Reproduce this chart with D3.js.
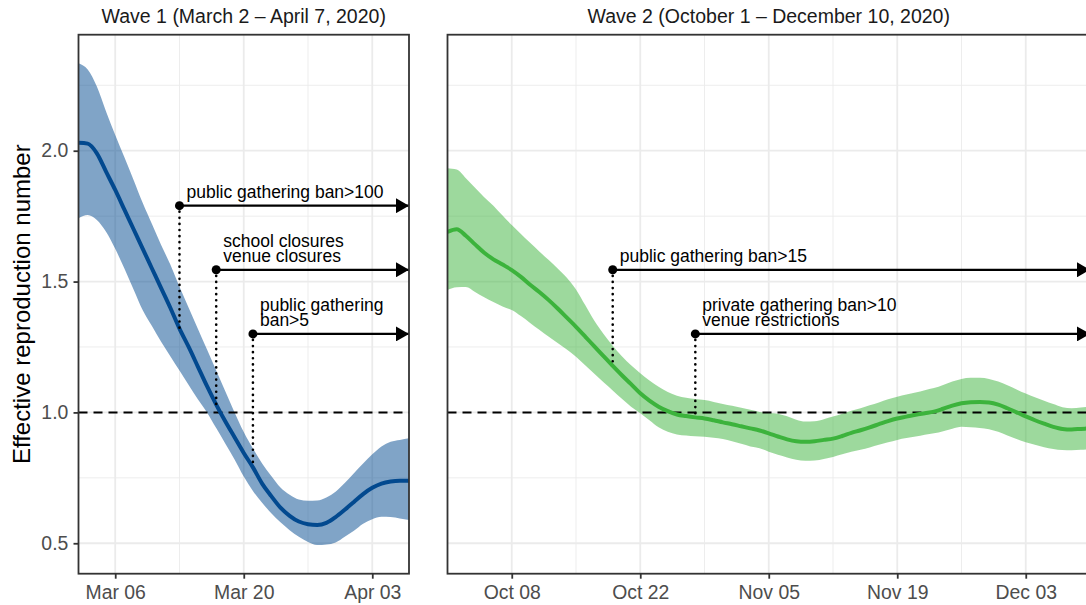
<!DOCTYPE html>
<html lang="en">
<head>
<meta charset="UTF-8">
<title>Effective reproduction number</title>
<script src="https://d3js.org/d3.v7.min.js"></script>
<style>
  body { margin: 0; background: #fff; }
  svg { display: block; font-family: "Liberation Sans", Arial, sans-serif; }
</style>
</head>
<body>
<svg id="chart" width="1086" height="605"></svg>
<script>
// wave 1: daily values from March 2 to April 7, 2020
const wave1Start = "2020-03-02"
const wave1End = "2020-04-07"
const wave1Mean = [2.030, 2.027, 1.990, 1.920, 1.850, 1.775, 1.700, 1.625, 1.550, 1.475,
  1.400, 1.320, 1.250, 1.175, 1.100, 1.030, 0.965, 0.905, 0.845, 0.790,
  0.728, 0.680, 0.636, 0.605, 0.583, 0.573, 0.570, 0.578, 0.600, 0.628,
  0.658, 0.688, 0.712, 0.728, 0.736, 0.739, 0.739]
const wave1Upper = [2.334, 2.310, 2.245, 2.150, 2.060, 1.975, 1.888, 1.800, 1.720, 1.640,
  1.565, 1.480, 1.400, 1.320, 1.240, 1.160, 1.080, 1.000, 0.925, 0.862,
  0.805, 0.757, 0.713, 0.685, 0.667, 0.662, 0.663, 0.675, 0.697, 0.730,
  0.768, 0.805, 0.840, 0.870, 0.888, 0.895, 0.901]
const wave1Lower = [1.742, 1.754, 1.735, 1.690, 1.625, 1.550, 1.470, 1.390, 1.330, 1.270,
  1.215, 1.160, 1.105, 1.050, 1.000, 0.940, 0.880, 0.820, 0.755, 0.700,
  0.655, 0.615, 0.580, 0.550, 0.525, 0.505, 0.493, 0.495, 0.503, 0.525,
  0.548, 0.575, 0.592, 0.601, 0.600, 0.595, 0.589]

// wave 2: daily values from October 1 to December 10, 2020
const wave2Start = "2020-10-01"
const wave2End = "2020-12-10"
const wave2Mean = [1.690, 1.700, 1.675, 1.642, 1.610, 1.585, 1.565, 1.544, 1.518, 1.488,
  1.460, 1.430, 1.397, 1.362, 1.327, 1.290, 1.252, 1.215, 1.178, 1.142,
  1.108, 1.073, 1.045, 1.022, 1.005, 0.992, 0.986, 0.981, 0.977, 0.970,
  0.962, 0.955, 0.947, 0.939, 0.931, 0.920, 0.908, 0.897, 0.890, 0.888,
  0.890, 0.895, 0.900, 0.910, 0.922, 0.932, 0.943, 0.955, 0.967, 0.977,
  0.984, 0.991, 0.997, 1.003, 1.014, 1.026, 1.035, 1.039, 1.040, 1.038,
  1.030, 1.016, 1.000, 0.985, 0.970, 0.957, 0.945, 0.937, 0.935, 0.937, 0.939]
const wave2Upper = [1.933, 1.928, 1.895, 1.858, 1.822, 1.790, 1.752, 1.716, 1.682, 1.648,
  1.615, 1.583, 1.550, 1.515, 1.470, 1.410, 1.350, 1.300, 1.255, 1.215,
  1.180, 1.150, 1.122, 1.098, 1.078, 1.064, 1.056, 1.051, 1.047, 1.040,
  1.032, 1.025, 1.018, 1.010, 1.002, 0.998, 0.995, 0.985, 0.972, 0.965,
  0.966, 0.974, 0.984, 0.995, 1.006, 1.016, 1.027, 1.038, 1.050, 1.060,
  1.068, 1.076, 1.085, 1.093, 1.105, 1.118, 1.128, 1.132, 1.132, 1.128,
  1.118, 1.104, 1.088, 1.072, 1.058, 1.045, 1.032, 1.020, 1.016, 1.019, 1.022]
const wave2Lower = [1.468, 1.478, 1.479, 1.460, 1.440, 1.422, 1.405, 1.391, 1.368, 1.342,
  1.316, 1.290, 1.265, 1.240, 1.213, 1.180, 1.148, 1.115, 1.084, 1.052,
  1.022, 0.997, 0.970, 0.943, 0.926, 0.916, 0.912, 0.909, 0.907, 0.903,
  0.898, 0.890, 0.880, 0.870, 0.863, 0.850, 0.838, 0.828, 0.819, 0.815,
  0.816, 0.822, 0.830, 0.840, 0.850, 0.857, 0.866, 0.876, 0.886, 0.895,
  0.902, 0.908, 0.915, 0.920, 0.928, 0.938, 0.945, 0.943, 0.940, 0.936,
  0.926, 0.912, 0.898, 0.886, 0.876, 0.867, 0.860, 0.856, 0.855, 0.857, 0.859]

// interventions
const wave1Events = [
  {date: "2020-03-13", y: 1.790, label: ["public gathering ban>100"]},
  {date: "2020-03-17", y: 1.545, label: ["school closures", "venue closures"]},
  {date: "2020-03-21", y: 1.300, label: ["public gathering", "ban>5"]}
]
const wave2Events = [
  {date: "2020-10-19", y: 1.545, label: ["public gathering ban>15"]},
  {date: "2020-10-28", y: 1.300, label: ["private gathering ban>10", "venue restrictions"]}
]

// ticks
const yTicks = [0.5, 1.0, 1.5, 2.0]
const yMinor = [0.75, 1.25, 1.75, 2.25]
const wave1Ticks = ["2020-03-06", "2020-03-20", "2020-04-03"]
const wave1Minor = ["2020-03-13", "2020-03-27"]
const wave2Ticks = ["2020-10-08", "2020-10-22", "2020-11-05", "2020-11-19", "2020-12-03"]
const wave2Minor = ["2020-10-15", "2020-10-29", "2020-11-12", "2020-11-26"]

const parse = d3.utcParse("%Y-%m-%d")
const fmt = d3.utcFormat("%b %d")

const panelTop = 34.7, panelBottom = 573.7
const y = d3.scaleLinear().domain([0.3837, 2.4433]).range([panelBottom, panelTop])

const panels = [
  {title: "Wave 1 (March 2 \u2013 April 7, 2020)", x0: 78.5, x1: 409,
   start: wave1Start, end: wave1End, mean: wave1Mean, upper: wave1Upper, lower: wave1Lower,
   events: wave1Events, ticks: wave1Ticks, minor: wave1Minor,
   line: "#02498F", band: "#02498F", yAxis: true},
  {title: "Wave 2 (October 1 \u2013 December 10, 2020)", x0: 447.5, x1: 1090,
   start: wave2Start, end: wave2End, mean: wave2Mean, upper: wave2Upper, lower: wave2Lower,
   events: wave2Events, ticks: wave2Ticks, minor: wave2Minor,
   line: "#3CB33C", band: "#3CB33C", yAxis: false}
]

const svg = d3.select("#chart")
svg.append("rect").attr("width", 1086).attr("height", 605).attr("fill", "#fff")

svg.append("defs").append("marker")
  .attr("id", "arrow")
  .attr("viewBox", "0 0 13 15")
  .attr("refX", 13).attr("refY", 7.5)
  .attr("markerWidth", 13).attr("markerHeight", 15)
  .attr("markerUnits", "userSpaceOnUse")
  .attr("orient", "auto")
  .append("path").attr("d", "M0,0L13,7.5L0,15Z").attr("fill", "#000")

panels.forEach((p, k) => {
  const x = d3.scaleUtc().domain([parse(p.start), parse(p.end)]).range([p.x0, p.x1])
  const start = parse(p.start)
  const rows = p.mean.map((m, i) => ({date: d3.utcDay.offset(start, i), mean: m, lo: p.lower[i], hi: p.upper[i]}))
  const g = svg.append("g")

  g.append("clipPath").attr("id", "clip" + k)
    .append("rect").attr("x", p.x0).attr("y", panelTop).attr("width", p.x1 - p.x0).attr("height", panelBottom - panelTop)

  // grid
  const grid = g.append("g").attr("stroke", "#EBEBEB")
  grid.selectAll("line.ymin").data(yMinor).join("line")
    .attr("x1", p.x0).attr("x2", p.x1).attr("y1", d => y(d)).attr("y2", d => y(d))
    .attr("stroke-width", 0.9)
  grid.selectAll("line.xmin").data(p.minor).join("line")
    .attr("x1", d => x(parse(d))).attr("x2", d => x(parse(d))).attr("y1", panelTop).attr("y2", panelBottom)
    .attr("stroke-width", 0.9)
  grid.selectAll("line.ymaj").data(yTicks).join("line")
    .attr("x1", p.x0).attr("x2", p.x1).attr("y1", d => y(d)).attr("y2", d => y(d))
    .attr("stroke-width", 1.8)
  grid.selectAll("line.xmaj").data(p.ticks).join("line")
    .attr("x1", d => x(parse(d))).attr("x2", d => x(parse(d))).attr("y1", panelTop).attr("y2", panelBottom)
    .attr("stroke-width", 1.8)

  const body = g.append("g").attr("clip-path", `url(#clip${k})`)

  // ribbon
  body.append("path").datum(rows)
    .attr("d", d3.area().x(d => x(d.date)).y0(d => y(d.lo)).y1(d => y(d.hi)).curve(d3.curveMonotoneX))
    .attr("fill", p.band).attr("fill-opacity", 0.5)

  // reference line at R = 1
  body.append("line")
    .attr("x1", p.x0).attr("x2", p.x1).attr("y1", y(1)).attr("y2", y(1))
    .attr("stroke", "#000").attr("stroke-width", 2).attr("stroke-dasharray", "9,6")

  body.append("path").datum(rows)
    .attr("d", d3.line().x(d => x(d.date)).y(d => y(d.mean)).curve(d3.curveMonotoneX))
    .attr("fill", "none").attr("stroke", p.line).attr("stroke-width", 4)

  // interventions
  p.events.forEach(e => {
    const dt = parse(e.date)
    const idx = d3.utcDay.count(start, dt)
    const ex = x(dt), ey = y(e.y)
    g.append("line")
      .attr("x1", ex).attr("x2", ex).attr("y1", ey + 6).attr("y2", y(p.mean[idx]))
      .attr("stroke", "#000").attr("stroke-width", 2.6)
      .attr("stroke-linecap", "round").attr("stroke-dasharray", "0.1,6")
    g.append("line")
      .attr("x1", ex).attr("x2", p.x1).attr("y1", ey).attr("y2", ey)
      .attr("stroke", "#000").attr("stroke-width", 2.2).attr("marker-end", "url(#arrow)")
    g.append("circle").attr("cx", ex).attr("cy", ey).attr("r", 4.5).attr("fill", "#000")
    const n = e.label.length
    g.append("text")
      .attr("x", ex + 7).attr("y", ey - 7.5)
      .attr("font-size", 17.5).attr("fill", "#000")
      .selectAll("tspan").data(e.label).join("tspan")
      .attr("x", ex + 7).attr("dy", (d, i) => i == 0 ? -(n - 1) * 15.5 : 15.5)
      .text(d => d)
  })

  // border
  g.append("rect").attr("x", p.x0).attr("y", panelTop).attr("width", p.x1 - p.x0).attr("height", panelBottom - panelTop)
    .attr("fill", "none").attr("stroke", "#333").attr("stroke-width", 1.8)

  // x axis
  const xa = g.append("g").attr("transform", `translate(0,${panelBottom})`)
    .call(d3.axisBottom(x).tickValues(p.ticks.map(parse)).tickFormat(fmt).tickSize(5).tickPadding(6.3))
  xa.select(".domain").remove()
  xa.selectAll("line").attr("stroke", "#333").attr("stroke-width", 1.8)
  xa.selectAll("text").attr("fill", "#4D4D4D").attr("font-size", 19.4)
    .attr("font-family", "Liberation Sans, Arial, sans-serif")

  if (p.yAxis) {
    const ya = g.append("g").attr("transform", `translate(${p.x0},0)`)
      .call(d3.axisLeft(y).tickValues(yTicks).tickFormat(d3.format(".1f")).tickSize(5).tickPadding(5.2))
    ya.select(".domain").remove()
    ya.selectAll("line").attr("stroke", "#333").attr("stroke-width", 1.8)
    ya.selectAll("text").attr("fill", "#4D4D4D").attr("font-size", 19.4)
      .attr("font-family", "Liberation Sans, Arial, sans-serif")
  }

  // strip title
  g.append("text")
    .attr("x", (p.x0 + p.x1) / 2).attr("y", 23.3)
    .attr("text-anchor", "middle").attr("font-size", 19.5).attr("fill", "#1A1A1A")
    .text(p.title)
})

svg.append("text")
  .attr("transform", `translate(30,${(panelTop + panelBottom) / 2}) rotate(-90)`)
  .attr("text-anchor", "middle").attr("font-size", 24).attr("fill", "#000")
  .text("Effective reproduction number")
</script>
</body>
</html>
